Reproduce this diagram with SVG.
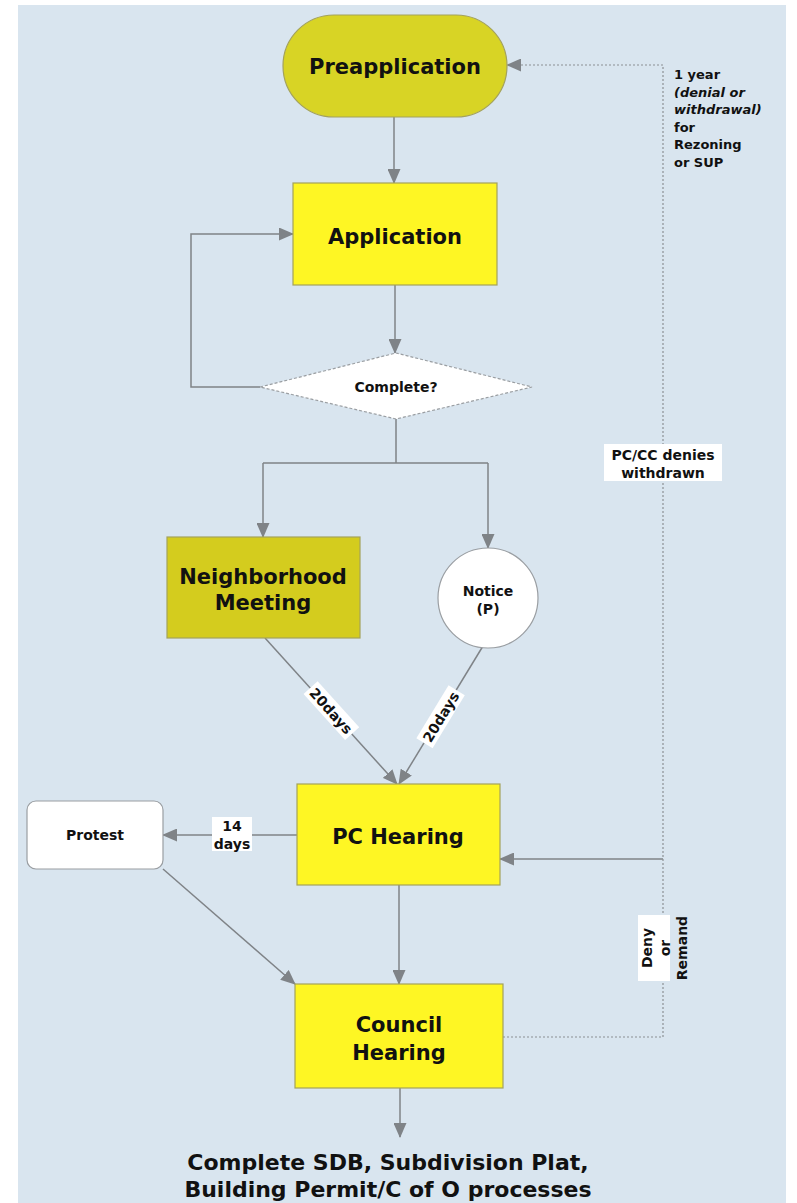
<svg xmlns="http://www.w3.org/2000/svg" width="797" height="1203" viewBox="0 0 797 1203">
<style>
.bg{fill:#d9e5ef}
.t{font-family:"DejaVu Sans",Verdana,"Liberation Sans",sans-serif;font-weight:bold;fill:#111111;text-anchor:middle}
.big{font-size:21px}
.sm{font-size:14px}
.yr{font-size:13px;text-anchor:start}
.it{font-style:italic}
.c{fill:none;stroke:#7f8387;stroke-width:1.5}
.d{fill:none;stroke:#8c9094;stroke-width:1.2;stroke-dasharray:2 2}
.lbl{fill:#ffffff}
.box{stroke:#a4a25a;stroke-width:1.2}
.wht{fill:#ffffff;stroke:#9a9ea2;stroke-width:1.2}
</style>
<defs>
<marker id="ah" markerWidth="15" markerHeight="13" refX="14" refY="6.5" orient="auto" markerUnits="userSpaceOnUse">
<path d="M0,0 L15,6.5 L0,13 z" fill="#7f8387"/>
</marker>
</defs>
<rect x="0" y="0" width="797" height="1203" fill="#ffffff"/>
<rect x="18" y="5" width="768" height="1198" class="bg"/>

<g id="connectors">
<path class="c" d="M394,117 V183" marker-end="url(#ah)"/>
<path class="c" d="M395,285 V353" marker-end="url(#ah)"/>
<path class="c" d="M260,387 H191 V234 H293" marker-end="url(#ah)"/>
<path class="c" d="M396,419 V463 M263,463 H488"/>
<path class="c" d="M263,463 V537" marker-end="url(#ah)"/>
<path class="c" d="M488,463 V548" marker-end="url(#ah)"/>
<path class="c" d="M265,638 L397,784" marker-end="url(#ah)"/>
<path class="c" d="M483,646 L399,784" marker-end="url(#ah)"/>
<path class="c" d="M297,835 H163" marker-end="url(#ah)"/>
<path class="c" d="M663,859 H500" marker-end="url(#ah)"/>
<path class="d" d="M503,1037 H663 V65 H507" marker-end="url(#ah)"/>
<path class="c" d="M399,885 V984" marker-end="url(#ah)"/>
<path class="c" d="M163,869 L295,984" marker-end="url(#ah)"/>
<path class="c" d="M400,1088 V1137" marker-end="url(#ah)"/>
</g>

<g id="preapplication">
<rect x="283" y="15" width="224" height="102" rx="51" fill="#d8d425" class="box"/>
<text class="t big" x="395" y="74">Preapplication</text>
</g>
<g id="application">
<rect x="293" y="183" width="204" height="102" fill="#fef624" class="box"/>
<text class="t big" x="395" y="244">Application</text>
</g>
<g id="complete">
<polygon points="260,387 396,353 532,387 396,419" fill="#ffffff" stroke="#9a9ea2" stroke-width="1.2" stroke-dasharray="3 2"/>
<text class="t sm" x="396" y="392">Complete?</text>
</g>
<g id="neighborhood">
<rect x="167" y="537" width="193" height="101" fill="#d4cc1e" class="box"/>
<text class="t big" x="263" y="584">Neighborhood</text>
<text class="t big" x="263" y="610">Meeting</text>
</g>
<g id="notice">
<circle cx="488" cy="598" r="50" class="wht"/>
<text class="t sm" x="488" y="596">Notice</text>
<text class="t sm" x="488" y="614">(P)</text>
</g>
<g id="pc-hearing">
<rect x="297" y="784" width="203" height="101" fill="#fef624" class="box"/>
<text class="t big" x="398" y="844">PC Hearing</text>
</g>
<g id="protest">
<rect x="27" y="801" width="136" height="68" rx="9" class="wht"/>
<text class="t sm" x="95" y="840">Protest</text>
</g>
<g id="council-hearing">
<rect x="295" y="984" width="208" height="104" fill="#fef624" class="box"/>
<text class="t big" x="399" y="1032">Council</text>
<text class="t big" x="399" y="1060">Hearing</text>
</g>
<g id="final">
<text class="t" style="font-size:22px" x="388" y="1170">Complete SDB, Subdivision Plat,</text>
<text class="t" style="font-size:22px" x="388" y="1197">Building Permit/C of O processes</text>
</g>

<g id="labels">
<g transform="translate(331,711) rotate(47.9)">
<rect x="-31" y="-10" width="62" height="19" class="lbl"/>
<text class="t sm" x="0" y="5">20days</text>
</g>
<g transform="translate(441,717) rotate(-58.7)">
<rect x="-31" y="-10" width="62" height="19" class="lbl"/>
<text class="t sm" x="0" y="5">20days</text>
</g>
<rect x="212" y="817" width="40" height="34" class="lbl"/>
<text class="t sm" x="232" y="831">14</text>
<text class="t sm" x="232" y="849">days</text>
<rect x="604" y="444" width="118" height="37" class="lbl"/>
<text class="t sm" x="663" y="460">PC/CC denies</text>
<text class="t sm" x="663" y="478">withdrawn</text>
<rect x="638" y="915" width="32" height="66" class="lbl"/>
<g transform="translate(665,948) rotate(-90)">
<text class="t sm" x="0" y="-13">Deny</text>
<text class="t sm" x="0" y="5">or</text>
<text class="t sm" x="0" y="22">Remand</text>
</g>
<text class="t yr" x="674" y="79">1 year</text>
<text class="t yr it" x="674" y="96.5">(denial or</text>
<text class="t yr it" x="674" y="114">withdrawal)</text>
<text class="t yr" x="674" y="131.5">for</text>
<text class="t yr" x="674" y="149">Rezoning</text>
<text class="t yr" x="674" y="166.5">or SUP</text>
</g>
</svg>
